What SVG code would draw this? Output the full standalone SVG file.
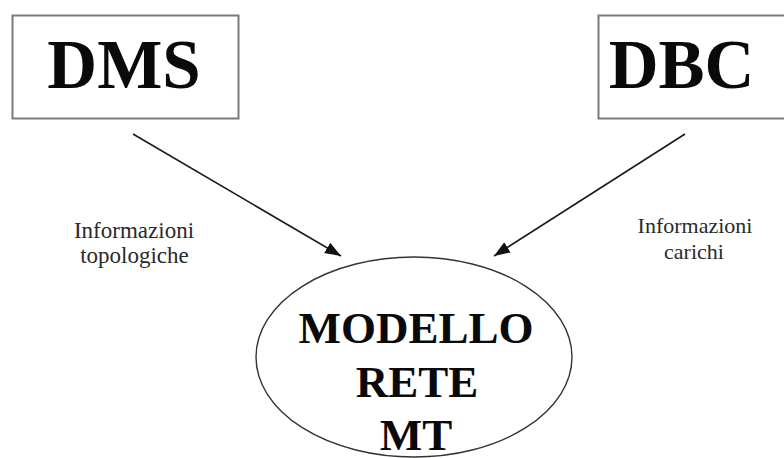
<svg xmlns="http://www.w3.org/2000/svg" width="784" height="458" viewBox="0 0 784 458">
  <style>
    .box { fill: #ffffff; stroke: #7a7a7a; stroke-width: 2; }
    .big { font-family: "Liberation Serif", "Times New Roman", serif; font-weight: bold; fill: #0a0a0a; text-anchor: middle; }
    .lbl { font-family: "Liberation Serif", "Times New Roman", serif; fill: #2a2a2a; text-anchor: middle; }
    .conn { stroke: #1a1a1a; stroke-width: 1.6; fill: none; marker-end: url(#arrow); }
  </style>
  <defs>
    <marker id="arrow" markerUnits="userSpaceOnUse" markerWidth="18" markerHeight="14" refX="16" refY="6" orient="auto">
      <path d="M0,0 L16,6 L0,12 Z" fill="#111111"/>
    </marker>
  </defs>
  <rect width="784" height="458" fill="#ffffff"/>

  <g id="node-dms">
    <rect class="box" x="12.5" y="15.5" width="226" height="103"/>
    <text class="big" x="124" y="88" font-size="69">DMS</text>
  </g>

  <g id="node-dbc">
    <rect class="box" x="598.5" y="15.5" width="200" height="103"/>
    <text class="big" x="681.5" y="88" font-size="69">DBC</text>
  </g>

  <g id="node-modello">
    <ellipse cx="414" cy="357" rx="158" ry="100" fill="#ffffff" stroke="#333333" stroke-width="1.4"/>
    <text class="big" x="416" y="343" font-size="45">MODELLO</text>
    <text class="big" x="417" y="397" font-size="45">RETE</text>
    <text class="big" x="416" y="450" font-size="45">MT</text>
  </g>

  <g id="connectors">
    <line class="conn" x1="133" y1="134" x2="341" y2="256"/>
    <line class="conn" x1="685" y1="134" x2="494" y2="256"/>
  </g>

  <g id="labels">
    <text class="lbl" x="134" y="238" font-size="23">Informazioni</text>
    <text class="lbl" x="134.5" y="263" font-size="23">topologiche</text>
    <text class="lbl" x="695" y="233" font-size="22">Informazioni</text>
    <text class="lbl" x="694" y="259" font-size="22">carichi</text>
  </g>
</svg>
